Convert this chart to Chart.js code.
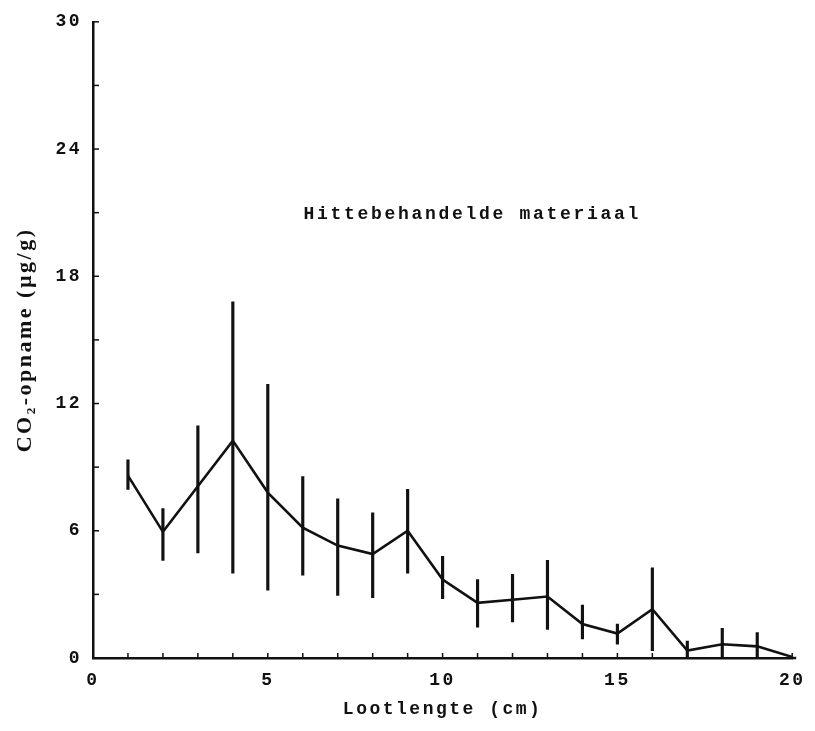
<!DOCTYPE html>
<html>
<head>
<meta charset="utf-8">
<script src="https://cdn.jsdelivr.net/npm/chart.js@4"></script>
<style>
  html, body { margin: 0; padding: 0; background: #fff; }
  #wrap { width: 815px; height: 731px; }
</style>
</head>
<body>
<div id="wrap"><canvas id="myChart"></canvas></div>
<script>
// lootlengte (cm)
const lengtes = [1, 2, 3, 4, 5, 6, 7, 8, 9, 10, 11, 12, 13, 14, 15, 16, 17, 18, 19, 20];
// gemiddelde CO2-opname (ug/g)
const opname = [8.6, 5.95, 8.1, 10.25, 7.8, 6.15, 5.3, 4.9, 6.0, 3.7, 2.6, 2.75, 2.9, 1.6, 1.15, 2.3, 0.35, 0.65, 0.55, 0.05];
// boven- en ondergrens van de foutbalken
const opnameHoog = [9.35, 7.05, 10.95, 16.8, 12.9, 8.55, 7.5, 6.85, 7.95, 4.8, 3.7, 3.95, 4.6, 2.5, 1.6, 4.25, 0.8, 1.4, 1.2, null];
const opnameLaag = [7.95, 4.6, 4.95, 4.0, 3.2, 3.9, 2.95, 2.85, 4.0, 2.8, 1.45, 1.7, 1.35, 0.9, 0.65, 0.35, 0, 0, 0, null];
const yTicks = [0, 6, 12, 18, 24, 30];
const xTicks = [0, 5, 10, 15, 20];
const titelTekst = "Hittebehandelde materiaal";

const lijnData = lengtes.map((x, i) => ({ x: x, y: opname[i] }));
const foutData = [];
for (let i = 0; i < lengtes.length; i++) {
  if (opnameHoog[i] === null) continue; // geen foutbalk bij 20 cm
  foutData.push({ x: lengtes[i], y: [opnameLaag[i], opnameHoog[i]] });
}

// tekst met ruime letters, zoals de typemachine
const spatiePlugin = {
  id: "spatie",
  beforeDraw(chart) {
    chart.ctx.letterSpacing = "2.5px";
  }
};

// kleine streepjes naar binnen op de assen + tekst in de grafiek
const assenPlugin = {
  id: "assen",
  afterDraw(chart) {
    const ctx = chart.ctx;
    const xs = chart.scales.x;
    const ys = chart.scales.y;
    const area = chart.chartArea;
    ctx.save();
    ctx.strokeStyle = "#111";
    ctx.lineWidth = 1.5;
    for (let v = 1; v <= 20; v++) {
      const px = xs.getPixelForValue(v);
      ctx.beginPath();
      ctx.moveTo(px, area.bottom);
      ctx.lineTo(px, area.bottom - 5);
      ctx.stroke();
    }
    for (let v = 3; v <= 30; v += 3) {
      const py = ys.getPixelForValue(v);
      ctx.beginPath();
      ctx.moveTo(area.left, py);
      ctx.lineTo(area.left + 6, py);
      ctx.stroke();
    }
    // x-as loopt iets door voorbij 20
    ctx.lineWidth = 2.5;
    ctx.beginPath();
    ctx.moveTo(area.right, area.bottom);
    ctx.lineTo(area.right + 4, area.bottom);
    ctx.stroke();

    ctx.fillStyle = "#111";
    ctx.font = "bold 18px 'Liberation Mono', monospace";
    ctx.letterSpacing = "2.7px";
    ctx.textAlign = "center";
    ctx.textBaseline = "middle";
    ctx.fillText(titelTekst, xs.getPixelForValue(10.85), ys.getPixelForValue(20.9));
    ctx.restore();
  }
};

const config = {
  type: "line",
  data: {
    datasets: [
      {
        type: "line",
        data: lijnData,
        borderColor: "#111",
        borderWidth: 2.6,
        pointRadius: 0,
        tension: 0,
        order: 1
      },
      {
        type: "bar",
        data: foutData,
        backgroundColor: "#111",
        borderWidth: 0,
        barThickness: 2.5,
        order: 2
      }
    ]
  },
  options: {
    responsive: true,
    maintainAspectRatio: false,
    animation: false,
    layout: { padding: { top: 16, right: 22, left: 0, bottom: 0 } },
    plugins: {
      legend: { display: false },
      tooltip: { enabled: false }
    },
    scales: {
      x: {
        type: "linear",
        min: 0,
        max: 20,
        offset: false,
        afterFit: (s) => { s.height = 73; },
        afterBuildTicks: (s) => { s.ticks = xTicks.map((v) => ({ value: v })); },
        grid: { display: false, drawTicks: false },
        border: { display: true, color: "#111", width: 2.5 },
        ticks: {
          color: "#111",
          padding: 12,
          maxRotation: 0,
          font: { family: "'Liberation Mono', monospace", size: 18, weight: "bold" }
        },
        title: {
          display: true,
          text: "Lootlengte (cm)",
          color: "#111",
          padding: { top: 0, bottom: 11 },
          font: { family: "'Liberation Mono', monospace", size: 18, weight: "bold" }
        }
      },
      y: {
        min: 0,
        max: 30,
        afterFit: (s) => { s.width = 93; },
        afterBuildTicks: (s) => { s.ticks = yTicks.map((v) => ({ value: v })); },
        grid: { display: false, drawTicks: false },
        border: { display: true, color: "#111", width: 2.5 },
        ticks: {
          color: "#111",
          padding: 11,
          font: { family: "'Liberation Mono', monospace", size: 18, weight: "bold" }
        },
        title: {
          display: true,
          text: "CO₂-opname (µg/g)",
          color: "#111",
          padding: { top: 12, bottom: 0 },
          font: { family: "'Liberation Serif', serif", size: 22, weight: "bold" }
        }
      }
    }
  },
  plugins: [spatiePlugin, assenPlugin]
};

let context = document.getElementById("myChart").getContext("2d");
let chart = new Chart(context, config);
</script>
</body>
</html>
